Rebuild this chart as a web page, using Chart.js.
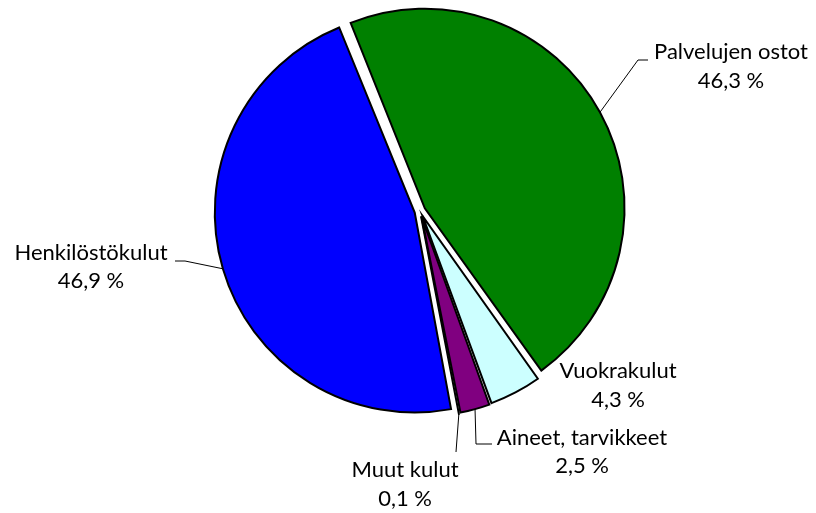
<!DOCTYPE html>
<html>
<head>
<meta charset="utf-8">
<script src="https://cdn.jsdelivr.net/npm/chart.js@4"></script>
<style>
  html, body { margin: 0; padding: 0; background: #fff; }
  #wrap { width: 816px; height: 513px; }
</style>
</head>
<body>
<div id="wrap"><canvas id="c" width="816" height="513"></canvas></div>
<script>
// ---- data ----
const categories = ['Palvelujen ostot', 'Vuokrakulut', 'Aineet, tarvikkeet', 'Muut kulut', 'Henkilöstökulut'];
const shares = [46.3, 4.3, 2.5, 0.1, 46.9];

// ---- styles / layout ----
const sliceColors = ['#008000', '#CCFFFF', '#800080', '#FFFF99', '#0000FF'];
const FONT = '22px Lato, "Open Sans", sans-serif';
// label text centre x, baseline of line 1 and line 2, leader elbow points (null = no leader)
const labelLayout = [
  { x: 731, y1: 59, y2: 88, leader: [[638, 60], [648, 60]] },
  { x: 618, y1: 378, y2: 407, leader: null },
  { x: 582, y1: 445, y2: 473, leader: [[476, 444], [492, 444]] },
  { x: 405, y1: 477, y2: 506, leader: [[456, 452]] },
  { x: 91, y1: 260, y2: 288, leader: [[185, 261], [175, 261]] }
];

function fmt(v) { return v.toFixed(1).replace('.', ',') + '\u202F%'; }

const labelPlugin = {
  id: 'pieLabels',
  afterDraw(chart) {
    const ctx = chart.ctx;
    const arcs = chart.getDatasetMeta(0).data;
    ctx.save();
    ctx.strokeStyle = '#000';
    ctx.lineWidth = 1;
    ctx.fillStyle = '#000';
    ctx.font = FONT;
    ctx.textAlign = 'center';
    ctx.textBaseline = 'alphabetic';
    arcs.forEach((arc, i) => {
      const L = labelLayout[i];
      const off = (arc.options.offset || 0) / 4;
      const circ = arc.endAngle - arc.startAngle;
      const fix = 1 - Math.sin(Math.min(Math.PI, circ));
      const half = (arc.startAngle + arc.endAngle) / 2;
      const cx = arc.x + Math.cos(half) * off;
      const cy = arc.y + Math.sin(half) * off;
      const r = arc.outerRadius + off * fix;
      if (L.leader) {
        ctx.beginPath();
        ctx.moveTo(cx + Math.cos(half) * r, cy + Math.sin(half) * r);
        L.leader.forEach(p => ctx.lineTo(p[0], p[1]));
        ctx.stroke();
      }
      ctx.fillText(categories[i], L.x, L.y1);
      ctx.fillText(fmt(shares[i]), L.x, L.y2);
    });
    ctx.restore();
  }
};

new Chart(document.getElementById('c'), {
  type: 'pie',
  data: {
    labels: categories,
    datasets: [{
      data: shares,
      backgroundColor: sliceColors,
      borderColor: '#000',
      borderWidth: 2,
      borderJoinStyle: 'miter',
      offset: 22,
      hoverOffset: 22
    }]
  },
  options: {
    responsive: false,
    animation: false,
    rotation: -22,
    radius: 195.5,
    layout: { padding: { left: 24, right: 0, top: 0, bottom: 91 } },
    plugins: {
      legend: { display: false },
      tooltip: { enabled: false }
    },
    events: []
  },
  plugins: [labelPlugin]
});
</script>
</body>
</html>
